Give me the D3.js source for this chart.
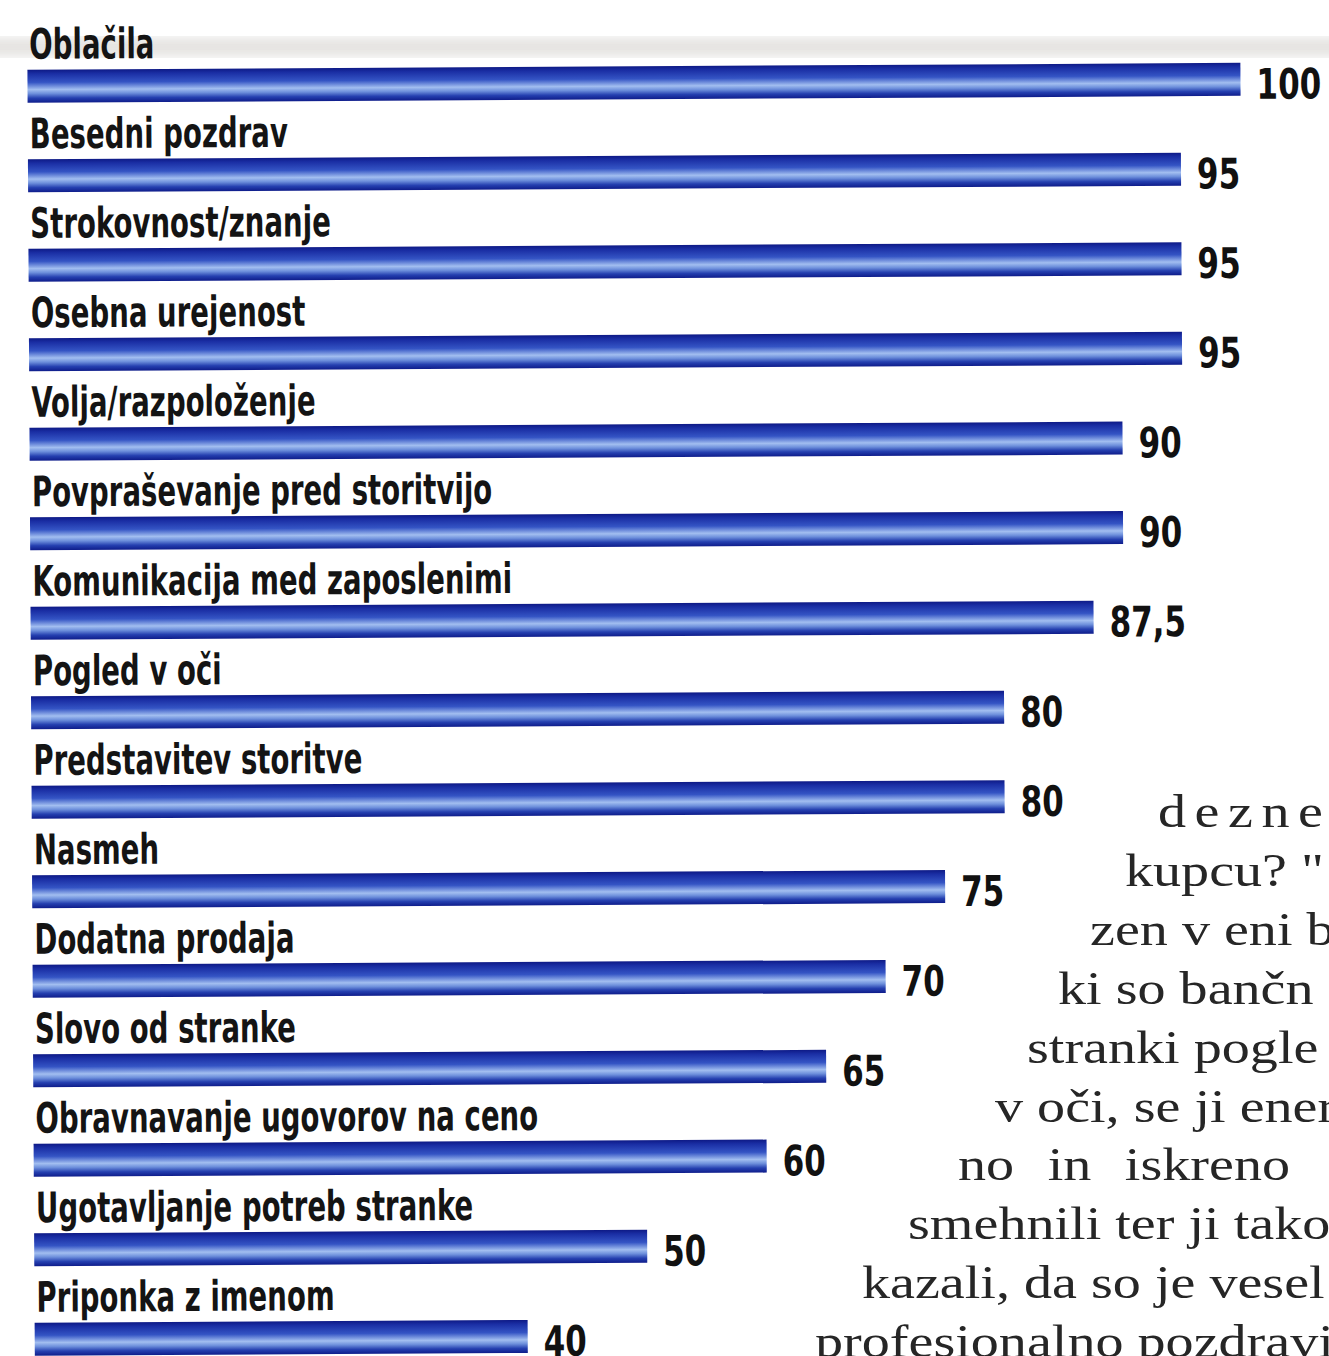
<!DOCTYPE html>
<html>
<head>
<meta charset="utf-8">
<script src="https://cdn.jsdelivr.net/npm/d3@7"></script>
<style>
  body { margin: 0; background: #fff; overflow: hidden; }
  #chart { width: 1329px; height: 1356px; }
  .label { font-family: 'DejaVu Sans Condensed', 'Liberation Sans', sans-serif; font-weight: bold; fill: #141414; }
  .value { font-family: 'DejaVu Sans Condensed', 'Liberation Sans', sans-serif; font-weight: bold; fill: #111; }
  .body  { font-family: 'Liberation Serif', 'DejaVu Serif', serif; fill: #262626; white-space: pre; }
</style>
</head>
<body>
<div id="chart"></div>
<script>

// categories, top to bottom
var categories = [
    "Oblačila",
    "Besedni pozdrav",
    "Strokovnost/znanje",
    "Osebna urejenost",
    "Volja/razpoloženje",
    "Povpraševanje pred storitvijo",
    "Komunikacija med zaposlenimi",
    "Pogled v oči",
    "Predstavitev storitve",
    "Nasmeh",
    "Dodatna prodaja",
    "Slovo od stranke",
    "Obravnavanje ugovorov na ceno",
    "Ugotavljanje potreb stranke",
    "Priponka z imenom"
];

var values = [100, 95, 95, 95, 90, 90, 87.5, 80, 80, 75, 70, 65, 60, 50, 40];

var valueLabels = ["100", "95", "95", "95", "90", "90", "87,5", "80", "80", "75", "70", "65", "60", "50", "40"];

// article text running beside the chart (cut off by the page edge)
var bodyLines = [
    "dezne",
    "kupcu? \"",
    "zen v eni b",
    "ki so bančn",
    "stranki pogle",
    "v oči, se ji ener",
    "no in iskreno",
    "smehnili ter ji tako",
    "kazali, da so je vesel",
    "profesionalno pozdravil"
];

var width = 1329,
    height = 1356,
    barLeft = 27,
    barHeight = 33,
    rowStep = 89.5;

var svg = d3.select("#chart").append("svg")
    .attr("width", width)
    .attr("height", height);

var defs = svg.append("defs");

// bar shading, dark edges with a light streak below the middle
var grad = defs.append("linearGradient")
    .attr("id", "barGrad")
    .attr("x1", 0).attr("y1", 0).attr("x2", 0).attr("y2", 1);
[
    [0, "#0e1a86"], [0.12, "#1a2ea4"], [0.38, "#3454c4"],
    [0.6, "#a2bef0"], [0.72, "#6e90dc"], [0.86, "#2540b0"], [1, "#0e1c8a"]
].forEach(function(s) {
    grad.append("stop").attr("offset", s[0]).attr("stop-color", s[1]);
});

defs.append("filter").attr("id", "smudge")
    .append("feGaussianBlur").attr("stdDeviation", 6);

// paper smudge at the top of the scan
svg.append("rect")
    .attr("x", -20).attr("y", 38)
    .attr("width", width + 40).attr("height", 18)
    .attr("fill", "#d8d6d2")
    .attr("opacity", 0.7)
    .attr("filter", "url(#smudge)");

// scan is a touch rotated
var g = svg.append("g")
    .attr("transform", "rotate(-0.33)");

// scales
var x = d3.scaleLinear().domain([0, 100]).range([40, 1240]);
var y = d3.scaleBand().domain(categories).range([70, 70 + categories.length * rowStep]);

var rows = g.selectAll(".row")
    .data(categories)
    .enter().append("g")
    .attr("class", "row")
    .attr("transform", function(d) { return "translate(0," + y(d) + ")"; });

rows.append("text")
    .attr("class", "label")
    .attr("x", 0)
    .attr("y", -11)
    .attr("font-size", 42)
    .text(function(d) { return d; });

rows.append("rect")
    .attr("class", "bar")
    .attr("x", barLeft)
    .attr("y", 0)
    .attr("width", function(d, i) { return x(values[i]) - barLeft; })
    .attr("height", barHeight)
    .attr("fill", "url(#barGrad)");

rows.append("text")
    .attr("class", "value")
    .attr("x", 0)
    .attr("y", barHeight + 3)
    .attr("font-size", 42)
    .text(function(d, i) { return valueLabels[i]; });

// the newspaper face is much narrower: squeeze labels to the width
// "Komunikacija med zaposlenimi" has in the scan (about 480px)
var ref = rows.selectAll(".label").filter(function(d) { return d == "Komunikacija med zaposlenimi"; });
var labelSx = 480 / ref.node().getComputedTextLength();

rows.select(".label")
    .attr("transform", "translate(29,0) scale(" + labelSx + ",1)");

rows.select(".value")
    .attr("transform", function(d, i) { return "translate(" + (x(values[i]) + 16) + ",0) scale(0.82,1)"; });

// article column
var bodyStart = [1158, 1125, 1090, 1058, 1027, 995, 958, 908, 862, 815];
svg.selectAll(".body")
    .data(bodyLines)
    .enter().append("text")
    .attr("class", "body")
    .attr("transform", function(d, i) {
        return "translate(" + bodyStart[i] + "," + (827 + i * 58.9) + ") scale(1.22,1)";
    })
    .attr("font-size", 46)
    .attr("letter-spacing", function(d, i) { return i == 0 ? 7 : 0; })
    .attr("word-spacing", function(d, i) { return i == 6 ? 16 : 0; })
    .text(function(d) { return d; });

</script>
</body>
</html>
